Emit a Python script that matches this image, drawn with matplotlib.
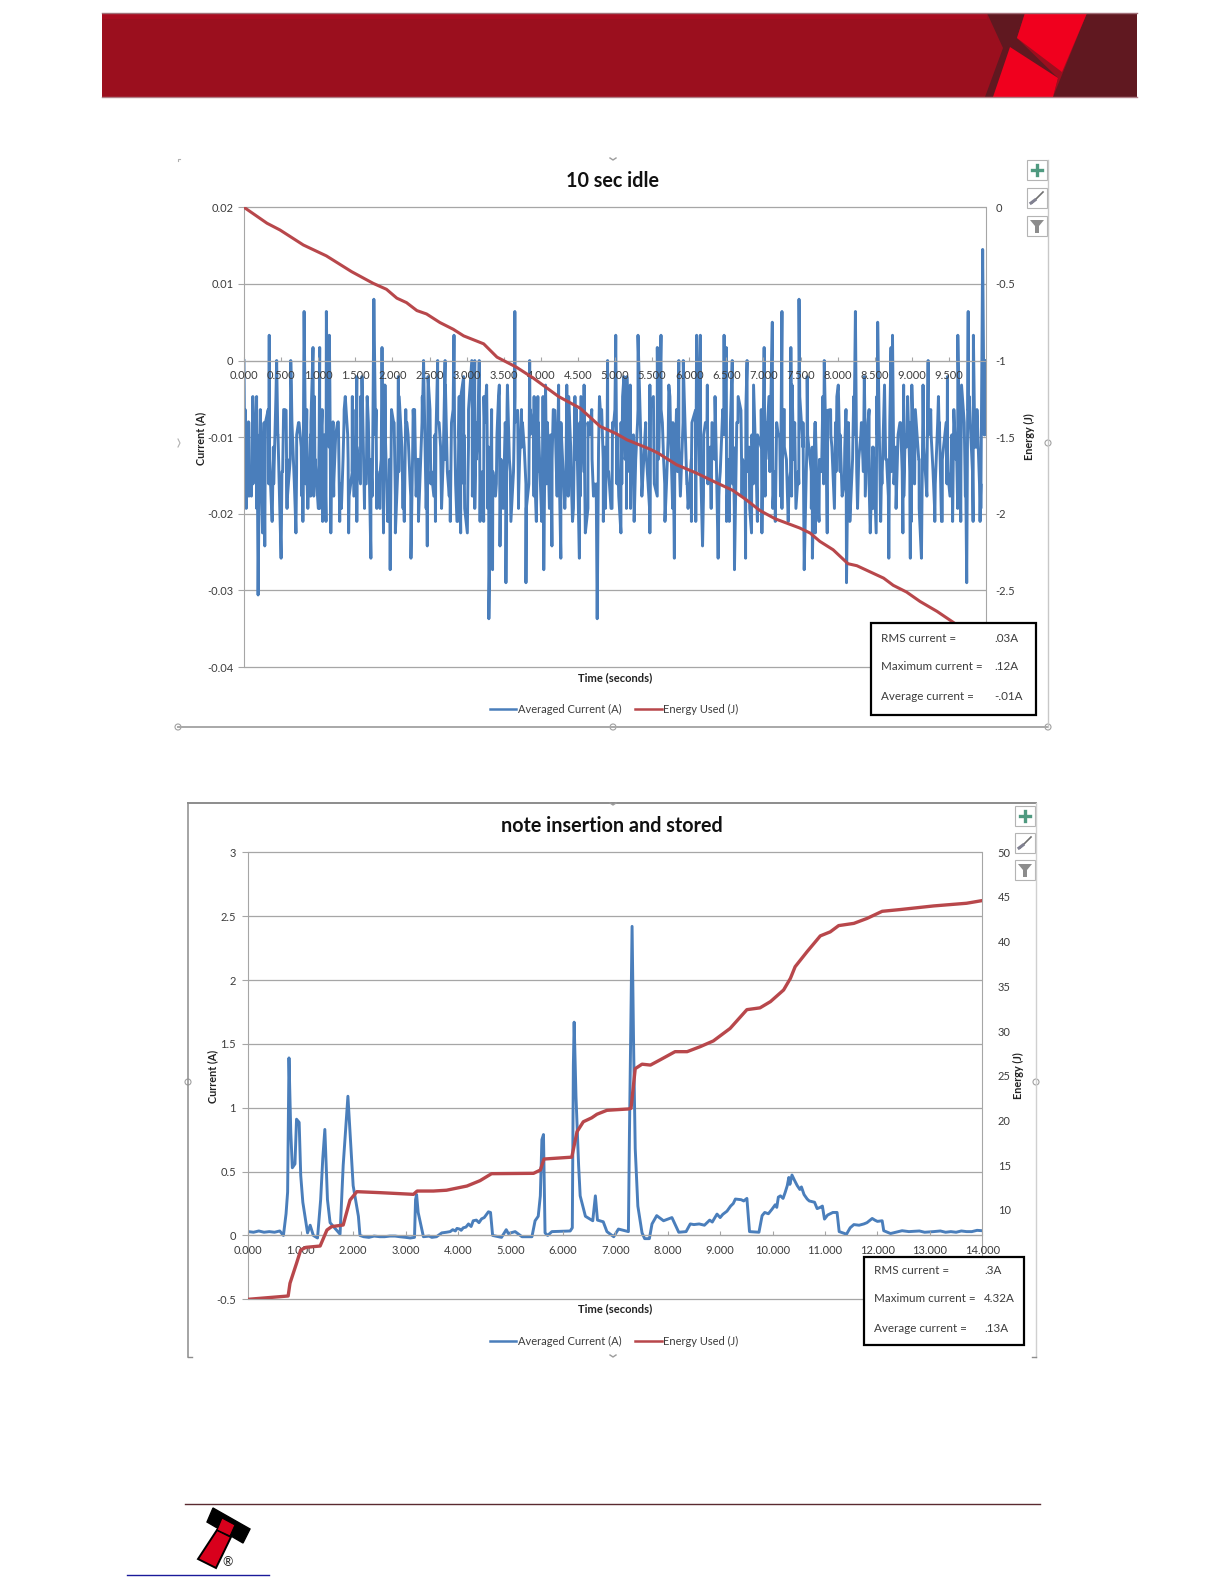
import numpy as np
import matplotlib
matplotlib.use("Agg")
import matplotlib.pyplot as plt
from matplotlib.patches import Polygon, Rectangle, Circle

W, H = 1224, 1584
FONT = ["Lato", "Open Sans", "DejaVu Sans"]
plt.rcParams["font.family"] = FONT
plt.rcParams["path.simplify"] = False

# ---------- chart 1 data: 10 sec idle ----------
idle_top_t = [0.00,0.06,0.17,0.22,0.34,0.44,0.55,0.63,0.71,0.81,0.93,1.02,1.11,1.15,1.20,1.27,1.35,1.46,1.52,1.59,1.66,1.75,1.86,1.90,
 2.08,2.18,2.28,2.42,2.48,2.61,2.71,2.83,2.90,2.96,3.07,3.11,3.17,3.27,3.43,3.55,3.65,3.74,3.85,3.91,4.03,4.24,4.35,4.46,4.54,4.67,4.82,4.90,
 5.01,5.12,5.16,5.31,5.47,5.57,5.62,5.74,5.86,5.92,6.10,6.15,6.24,6.47,6.50,6.58,6.78,7.01,7.12,7.25,7.37,7.48,7.59,7.82,7.99,
 8.24,8.36,8.54,8.72,8.74,8.89,9.00,9.22,9.37,9.48,9.62,9.76,9.83,9.955,9.99]
idle_top_a = [0,-0.008,-0.0047,-0.0064,0.0033,0,-0.0064,0,-0.0097,0.0064,0.0017,0.0017,0.0064,0.0033,-0.008,-0.008,-0.0064,-0.0047,-0.0021,-0.0021,-0.0047,0.008,0.0017,-0.0032,
 -0.0021,-0.0064,-0.0064,0,-0.0021,0,0,0.0033,-0.0047,-0.0021,0,0,0,-0.0032,-0.0047,-0.0032,0.0064,-0.0064,0,-0.0047,-0.0047,-0.0032,-0.0032,-0.0047,-0.0047,-0.008,-0.0064,0,
 0.0033,-0.0021,-0.0021,0.0033,-0.0032,0.0017,0.0033,-0.0047,0,0,0.0033,0.0033,-0.008,0.0033,0.0017,0,0,0.0017,0.005,0.0064,0.0017,0.008,-0.0021,0,-0.0047,
 0.0064,-0.0021,0.005,0.0017,0.0033,-0.0032,-0.0032,0,-0.0097,-0.0021,0.0033,0.0064,0.0033,0.0145,0]
idle_low_t = [0.03,0.10,0.19,0.25,0.28,0.38,0.50,0.58,0.70,0.78,0.86,0.94,1.02,1.06,1.17,1.29,1.41,1.48,1.57,1.71,1.79,1.88,1.97,2.04,2.16,2.25,2.32,2.47,2.58,2.78,2.88,2.92,
 3.01,3.11,3.23,3.30,3.35,3.45,3.53,3.70,3.80,3.94,4.04,4.15,4.27,4.37,4.44,4.52,4.60,4.71,4.76,4.87,4.96,5.08,5.21,5.47,5.67,5.80,6.03,6.18,6.39,6.54,6.61,6.76,6.84,6.98,
 7.16,7.25,7.38,7.55,7.66,7.70,7.86,8.12,8.44,8.52,8.69,8.88,8.98,9.13,9.31,9.40,9.55,9.66,9.74,9.92]
idle_low_a = [-0.0193,-0.0177,-0.0306,-0.0225,-0.0242,-0.021,-0.0258,-0.0193,-0.0225,-0.0177,-0.0193,-0.0177,-0.0193,-0.021,-0.0225,-0.021,-0.0225,-0.0177,-0.0161,-0.0258,-0.0193,-0.0225,-0.0273,-0.0225,-0.021,-0.0258,-0.0177,-0.0242,-0.021,-0.021,-0.021,-0.0225,
 -0.0225,-0.0193,-0.021,-0.0337,-0.0273,-0.0242,-0.029,-0.0193,-0.029,-0.021,-0.0273,-0.0242,-0.0258,-0.0177,-0.0193,-0.0258,-0.0225,-0.0177,-0.0337,-0.0193,-0.0193,-0.0225,-0.0193,-0.0225,-0.0161,-0.0258,-0.021,-0.0242,-0.0258,-0.021,-0.0273,-0.0258,-0.0225,-0.0225,
 -0.021,-0.0193,-0.0177,-0.0273,-0.0258,-0.0225,-0.0225,-0.029,-0.0225,-0.0225,-0.0258,-0.0225,-0.0258,-0.0258,-0.021,-0.021,-0.021,-0.021,-0.029,-0.021]
idle_body_a = [-0.0129,-0.0081,-0.0161,-0.0097,-0.0145,-0.0081,-0.0129,-0.0161,-0.0097,-0.0145,-0.0065,-0.0129,-0.0161,-0.0081,-0.0113,-0.0145,-0.0081,-0.0161,-0.0097,-0.0129,
 -0.0065,-0.0145,-0.0097,-0.0161,-0.0081,-0.0129,-0.0145,-0.0097,-0.0065,-0.0161,-0.0113,-0.0081,-0.0145,-0.0129,-0.0097,-0.0161,-0.0081,-0.0145,-0.0113,-0.0081,
 -0.0161,-0.0097,-0.0129,-0.0065,-0.0145,-0.0161,-0.0097,-0.0081,-0.0129,-0.0145,-0.0081,-0.0161,-0.0113,-0.0097,-0.0145,-0.0065,-0.0129,-0.0161,-0.0081,-0.0113,
 -0.0145,-0.0097,-0.0161,-0.0081,-0.0129,-0.0145,-0.0065,-0.0113,-0.0161,-0.0097,-0.0129,-0.0081,-0.0145,-0.0161,-0.0097,-0.0065,-0.0129,-0.0145,-0.0081,-0.0161,
 -0.0113,-0.0097,-0.0145,-0.0081,-0.0129,-0.0161,-0.0065,-0.0113,-0.0145,-0.0097,-0.0161,-0.0081,-0.0129,-0.0145,-0.0097,-0.0081,-0.0161,-0.0113,-0.0065,-0.0145,
 -0.0129,-0.0081,-0.0161,-0.0097,-0.0145,-0.0113,-0.0081,-0.0161,-0.0129,-0.0065,-0.0145,-0.0097,-0.0161,-0.0081,-0.0113,-0.0145,-0.0097,-0.0129,-0.0161,-0.0081,
 -0.0065,-0.0145,-0.0113,-0.0161,-0.0097,-0.0129,-0.0081,-0.0145,-0.0161,-0.0097,-0.0065,-0.0129,-0.0145,-0.0081,-0.0161,-0.0113,-0.0097,-0.0145,-0.0081,-0.0129,
 -0.0161,-0.0065,-0.0113,-0.0145,-0.0097,-0.0161,-0.0081,-0.0129,-0.0145,-0.0097,-0.0081,-0.0161,-0.0113,-0.0065,-0.0145,-0.0129,-0.0081,-0.0161,-0.0097,-0.0145,
 -0.0113,-0.0081,-0.0161,-0.0129,-0.0065,-0.0145,-0.0097,-0.0161,-0.0081,-0.0113,-0.0145,-0.0097,-0.0129,-0.0161,-0.0081,-0.0065,-0.0145,-0.0113,-0.0161,-0.0097]
idle_core_a = [-0.0113,-0.0145,-0.0097,-0.0129,-0.0081,-0.0161,-0.0113,-0.0097,-0.0145,-0.0129,-0.0081,-0.0145,-0.0113,-0.0161,-0.0097,-0.0129,
 -0.0145,-0.0097,-0.0113,-0.0161,-0.0081,-0.0129,-0.0097,-0.0145,-0.0113,-0.0081,-0.0161,-0.0129,-0.0097,-0.0145,-0.0113,-0.0129,
 -0.0081,-0.0145,-0.0161,-0.0097,-0.0113,-0.0129,-0.0081,-0.0161,-0.0145,-0.0097,-0.0113,-0.0129,-0.0145,-0.0081,-0.0097,-0.0161,
 -0.0113,-0.0129,-0.0097,-0.0145,-0.0081,-0.0113,-0.0161,-0.0129,-0.0097,-0.0145,-0.0081,-0.0129,-0.0113,-0.0161,-0.0097,-0.0145,
 -0.0113,-0.0081,-0.0129,-0.0161,-0.0097,-0.0145,-0.0113,-0.0129,-0.0081,-0.0145,-0.0097,-0.0161,-0.0113,-0.0129,-0.0145,-0.0081,
 -0.0097,-0.0161,-0.0113,-0.0145,-0.0129,-0.0081,-0.0097,-0.0145,-0.0161,-0.0113,-0.0129,-0.0097,-0.0081,-0.0145,-0.0113,-0.0161,
 -0.0129,-0.0097,-0.0145,-0.0081,-0.0113,-0.0129,-0.0161,-0.0097,-0.0145,-0.0113,-0.0081,-0.0129,-0.0145,-0.0097,-0.0161,-0.0113,
 -0.0129,-0.0081,-0.0145,-0.0097,-0.0113,-0.0161,-0.0129,-0.0145,-0.0081,-0.0097,-0.0113,-0.0161,-0.0145,-0.0129,-0.0097,-0.0081,
 -0.0145,-0.0113,-0.0161,-0.0097,-0.0129,-0.0145,-0.0081,-0.0113,-0.0097,-0.0161,-0.0129,-0.0145,-0.0113,-0.0081,-0.0097,-0.0145,
 -0.0161,-0.0129,-0.0113,-0.0097,-0.0145,-0.0081,-0.0129,-0.0161,-0.0113,-0.0097,-0.0145,-0.0129,-0.0081,-0.0113,-0.0161,-0.0097]
idle_outer_a = [-0.0064,-0.0177,-0.0047,-0.0193,-0.0081,-0.0177,-0.0064,-0.021,-0.0047,-0.0193,-0.0064,-0.0177,-0.0032,-0.0193,-0.0081,-0.021,
 -0.0064,-0.0177,-0.0047,-0.0193,-0.0064,-0.021,-0.0032,-0.0177,-0.0081,-0.0193,-0.0047,-0.0177,-0.0064,-0.021,-0.0047,-0.0193,
 -0.0081,-0.0177,-0.0064,-0.0193,-0.0032,-0.021,-0.0064,-0.0177,-0.0047,-0.0193,-0.0081,-0.0177,-0.0064,-0.021,-0.0047,-0.0193,
 -0.0064,-0.0177,-0.0081,-0.0193,-0.0032,-0.0177,-0.0064,-0.021,-0.0047,-0.0193,-0.0064,-0.0177,-0.0081,-0.021,-0.0047,-0.0193,
 -0.0064,-0.0177,-0.0032,-0.0193,-0.0064,-0.021,-0.0047,-0.0177,-0.0081,-0.0193,-0.0064,-0.0177,-0.0047,-0.021,-0.0032,-0.0193,
 -0.0064,-0.0177,-0.0081,-0.0193,-0.0047,-0.021,-0.0064,-0.0177,-0.0032,-0.0193,-0.0064,-0.0177,-0.0047,-0.021,-0.0081,-0.0193,
 -0.0064,-0.0177,-0.0047,-0.0193,-0.0032,-0.021,-0.0064,-0.0177,-0.0081,-0.0193,-0.0047,-0.0177,-0.0064,-0.021,-0.0032,-0.0193,
 -0.0064,-0.0177,-0.0047,-0.0193,-0.0081,-0.021,-0.0064,-0.0177,-0.0032,-0.0193,-0.0047,-0.0177,-0.0064,-0.021,-0.0081,-0.0193,
 -0.0047,-0.0177,-0.0064,-0.0193,-0.0032,-0.021,-0.0064,-0.0177,-0.0047,-0.0193,-0.0081,-0.0177,-0.0064,-0.021,-0.0032,-0.0193,
 -0.0047,-0.0177,-0.0064,-0.0193,-0.0081,-0.021,-0.0047,-0.0177,-0.0064,-0.0193,-0.0032,-0.0177,-0.0064,-0.021,-0.0047,-0.0193,
 -0.0081,-0.0177,-0.0064,-0.0193,-0.0047,-0.021,-0.0032,-0.0177,-0.0064,-0.0193,-0.0081,-0.0177,-0.0047,-0.021,-0.0064,-0.0193,
 -0.0032,-0.0177,-0.0064,-0.0193,-0.0047,-0.021,-0.0081,-0.0177,-0.0064,-0.0193,-0.0032,-0.0177,-0.0047,-0.021,-0.0064,-0.0193]
idle_energy_t = [0,0.31,0.485,0.80,1.11,1.45,1.74,1.92,2.06,2.19,2.33,2.46,2.64,2.82,2.96,3.23,3.41,3.67,3.90,4.24,4.53,4.80,5.02,5.16,5.47,5.58,5.83,6.10,6.33,6.59,6.77,6.95,7.16,7.49,7.63,7.76,7.94,8.14,8.26,8.62,8.75,8.93,9.11,9.34,9.56,10.0]
idle_energy_j = [0,-0.104,-0.148,-0.246,-0.317,-0.42,-0.496,-0.535,-0.593,-0.622,-0.674,-0.696,-0.752,-0.796,-0.839,-0.891,-0.978,-1.043,-1.115,-1.235,-1.311,-1.43,-1.478,-1.517,-1.578,-1.604,-1.68,-1.735,-1.789,-1.848,-1.909,-1.978,-2.033,-2.093,-2.126,-2.18,-2.235,-2.326,-2.339,-2.42,-2.467,-2.511,-2.572,-2.637,-2.709,-2.87]
idle_xticks = [0.0,0.5,1.0,1.5,2.0,2.5,3.0,3.5,4.0,4.5,5.0,5.5,6.0,6.5,7.0,7.5,8.0,8.5,9.0,9.5]
idle_yticks = [0.02,0.01,0,-0.01,-0.02,-0.03,-0.04]
idle_eticks = [0,-0.5,-1,-1.5,-2,-2.5]

# ---------- chart 2 data: note insertion and stored ----------
note_t = [0,0.30,0.60,0.67,0.72,0.75,0.776,0.81,0.84,0.89,0.92,0.97,1.0,1.04,1.13,1.18,1.24,1.32,1.38,1.42,1.46,1.51,1.56,1.75,1.81,1.90,1.94,2.0,2.10,2.13,2.51,2.89,3.09,3.17,3.19,3.21,3.24,3.34,3.59,3.69,3.98,4.1,4.29,4.58,4.62,4.66,4.83,4.92,4.96,5.09,5.22,5.41,5.47,5.53,5.57,5.6,5.63,5.66,5.71,5.79,6.14,6.18,6.2,6.215,6.25,6.3,6.33,6.43,6.57,6.62,6.66,6.77,6.84,6.97,7.06,7.25,7.27,7.32,7.35,7.38,7.43,7.51,7.56,7.65,7.7,7.79,7.92,8.08,8.21,8.35,8.43,8.75,8.94,9.13,9.29,9.51,9.56,9.74,9.8,9.99,10.11,10.24,10.31,10.37,10.47,10.66,10.91,10.99,11.23,11.27,11.41,11.48,11.74,11.9,12.09,12.12,12.25,12.47,13.07,13.7,14.0]
note_a = [0.03,0.025,0.035,0,0.17,0.34,1.39,0.81,0.53,0.56,0.91,0.885,0.47,0.26,0.02,0.08,0,-0.02,0.28,0.6,0.83,0.28,0.1,0.01,0.55,1.09,0.81,0.39,0.15,0,-0.01,-0.01,-0.02,-0.015,0.28,0.32,0.18,-0.01,-0.01,0.02,0.055,0.06,0.115,0.185,0.18,0,-0.015,0.045,0.015,0.03,-0.01,-0.01,0.115,0.15,0.31,0.75,0.79,0.02,0,0.03,0.035,0.06,1.33,1.67,1.09,0.55,0.31,0.15,0.115,0.31,0.12,0.107,0.03,-0.01,0.05,0.03,0.8,2.42,1.46,0.68,0.23,0.02,-0.025,-0.025,0.09,0.155,0.115,0.14,0.025,0.03,0.09,0.1,0.167,0.19,0.285,0.29,0.03,0.025,0.155,0.206,0.3,0.337,0.454,0.473,0.39,0.285,0.22,0.128,0.18,0.03,0.01,0.06,0.09,0.133,0.115,0.037,0.015,0.037,0.03,0.03,0.037]
note_fine_t = [0.1,0.2,0.4,0.5,2.2,2.3,2.4,2.6,2.7,2.8,3.0,3.45,3.5,3.78,3.85,3.9,3.95,4.03,4.06,4.15,4.2,4.25,4.35,4.4,4.45,4.5,8.5,8.6,8.7,8.8,8.85,8.9,9.0,9.05,9.2,9.25,9.4,9.45,9.85,9.92,10.05,10.08,10.15,10.2,10.28,10.33,10.42,10.52,10.55,10.6,10.7,10.8,10.85,10.95,11.05,11.15,11.55,11.65,11.8,11.95,12.0,12.6,12.8,12.9,13.2,13.3,13.4,13.5,13.6,13.8,13.9]
note_fine_a = [0.025,0.035,0.03,0.025,-0.01,-0.015,-0.005,-0.01,-0.005,-0.005,-0.015,-0.005,-0.015,0.025,0.03,0.045,0.035,0.05,0.04,0.065,0.09,0.07,0.12,0.1,0.13,0.14,0.085,0.09,0.08,0.12,0.105,0.14,0.14,0.165,0.23,0.25,0.28,0.27,0.18,0.17,0.24,0.22,0.31,0.29,0.39,0.40,0.43,0.36,0.38,0.32,0.27,0.26,0.21,0.23,0.16,0.18,0.085,0.08,0.1,0.12,0.11,0.03,0.035,0.025,0.035,0.025,0.03,0.025,0.035,0.03,0.04]
note_energy_t = [0,0.76,0.795,0.92,1.0,1.1,1.37,1.5,1.59,1.81,1.94,2.07,2.51,3.15,3.22,3.53,3.78,4.17,4.42,4.64,5.44,5.57,5.64,6.17,6.27,6.39,6.55,6.65,6.84,7.25,7.30,7.38,7.51,7.67,7.86,8.14,8.37,8.62,8.87,9.19,9.51,9.76,9.96,10.21,10.34,10.43,10.66,10.91,11.1,11.26,11.55,11.8,12.09,12.44,13.07,13.7,14.0]
note_energy_j = [0,0.37,1.79,4.03,5.52,5.81,5.96,7.75,8.13,8.31,11.1,12.04,11.93,11.74,12.11,12.11,12.2,12.67,13.27,14.05,14.09,14.46,15.69,15.9,18.75,19.86,20.3,20.7,21.14,21.29,21.36,25.8,26.3,26.2,26.8,27.7,27.7,28.26,28.9,30.3,32.4,32.6,33.3,34.6,35.9,37.2,38.9,40.65,41.1,41.8,42.05,42.6,43.4,43.6,44.0,44.3,44.6]
note_xticks = list(range(0, 15))
note_yticks = [3,2.5,2,1.5,1,0.5,0,-0.5]
note_eticks = [50,45,40,35,30,25,20,15,10]

BLUE, RED = "#4a7ebb", "#b8474b"
GREY, TXT = "#a6a6a6", "#3c3c3c"

fig = plt.figure(figsize=(W/100, H/100), dpi=100, facecolor="white")

def rect(l, t, r, b):
    return [l/W, 1-b/H, (r-l)/W, (b-t)/H]

def chart(l, t, r, b, xmax, ylim, elim, yticks, eticks, xticks, xfmt, ts, ys, es, ej, lw, elw, ypad, epad):
    ax = fig.add_axes(rect(l, t, r, b), facecolor="white", zorder=1)
    ax.set_xlim(0, xmax); ax.set_ylim(*ylim)
    ax.hlines(yticks, 0, xmax, colors=GREY, lw=0.9, zorder=1, clip_on=False)
    cur, = ax.plot(ts, ys, color=BLUE, lw=lw, zorder=2, solid_joinstyle="round", label="Averaged Current (A)")
    ax.set_axisbelow(False)
    ax.spines["top"].set_visible(False)
    ax.spines["left"].set_color(GREY); ax.spines["right"].set_color(GREY)
    ax.spines["bottom"].set_color(GREY)
    ax.spines["left"].set_linewidth(0.8); ax.spines["right"].set_linewidth(0.8); ax.spines["bottom"].set_linewidth(0.8)
    ax.spines["bottom"].set_position(("data", 0))
    ax.set_yticks(yticks); ax.set_yticklabels([("%g" % v) for v in yticks], color=TXT, fontsize=8)
    ax.set_xticks(xticks); ax.set_xticklabels([xfmt % v for v in xticks], color=TXT, fontsize=8)
    ax.tick_params(axis="y", length=4, color=GREY, width=0.8, pad=ypad)
    ax.tick_params(axis="x", length=3, color=GREY, width=0.8, pad=7, direction="in")
    ax2 = ax.twinx()
    ax2.set_zorder(2); ax2.patch.set_alpha(0)
    ax2.set_ylim(*elim)
    en, = ax2.plot(es, ej, color=RED, lw=elw, zorder=3, label="Energy Used (J)")
    for s in ax2.spines.values():
        s.set_visible(False)
    ax2.set_yticks(eticks); ax2.set_yticklabels([("%g" % v) for v in eticks], color=TXT, fontsize=8)
    ax2.tick_params(axis="y", length=0, pad=epad)
    return ax, ax2, cur, en

# chart 1 (merged time-ordered samples)
body_t = np.linspace(0.01, 9.985, len(idle_body_a))
core_t = np.linspace(0.02, 9.975, len(idle_core_a))
outer_t = np.linspace(0.015, 9.93, len(idle_outer_a))
t1 = np.concatenate([idle_top_t, idle_low_t, body_t, core_t, outer_t])
a1 = np.concatenate([idle_top_a, idle_low_a, idle_body_a, idle_core_a, idle_outer_a])
order = np.argsort(t1, kind="stable")
t2 = np.concatenate([note_t, note_fine_t])
a2 = np.concatenate([note_a, note_fine_a])
order2 = np.argsort(t2, kind="stable")
ax1, ax1e, c1, e1 = chart(244, 207.3, 986, 667, 10, (-0.04, 0.02), (-3, 0), idle_yticks, idle_eticks, idle_xticks, "%.3f", t1[order], a1[order], idle_energy_t, idle_energy_j, 2.1, 2.2, 3.5, 7)
ax2, ax2e, c2, e2 = chart(248.3, 852.3, 982.3, 1299.3, 14, (-0.5, 3), (0, 50), note_yticks, note_eticks, note_xticks, "%.3f", t2[order2], a2[order2], note_energy_t, note_energy_j, 2.1, 2.4, 5, 11)

# titles, axis labels and legends
def txt(x, y, s, **k):
    k.setdefault("ha", "center"); k.setdefault("va", "center")
    fig.text(x/W, 1-y/H, s, **k)

txt(612, 181, "10 sec idle", fontsize=14.2, fontweight="bold", color="#111111")
txt(612, 826, "note insertion and stored", fontsize=14.2, fontweight="bold", color="#111111")
for x, y, s in [(201, 438, "Current (A)"), (1029, 437, "Energy (J)"), (213, 1076, "Current (A)"), (1018, 1076, "Energy (J)")]:
    txt(x, y, s, rotation=90, fontsize=7.8, fontweight="bold", color="#222222")
txt(615.5, 678, "Time (seconds)", fontsize=8, fontweight="bold", color="#222222")
txt(615, 1309, "Time (seconds)", fontsize=8, fontweight="bold", color="#222222")
for cy, hs in [(709, (c1, e1)), (1341, (c2, e2))]:
    leg = fig.legend(hs, [h.get_label() for h in hs], loc="center", bbox_to_anchor=(614/W, 1-cy/H), ncol=2, frameon=False,
               fontsize=8, labelcolor=TXT, handlelength=2.4, handletextpad=0.15, columnspacing=1.2, borderpad=0)
    for h in leg.get_lines():
        h.set_linewidth(1.8)

# page furniture drawn in pixel coordinates
ov = fig.add_axes([0, 0, 1, 1], zorder=10)
ov.set_xlim(0, W); ov.set_ylim(H, 0); ov.axis("off"); ov.patch.set_alpha(0)

# header
ov.add_patch(Rectangle((102, 13), 1035, 84, fc="#9b0f1e", ec="none"))
ov.add_patch(Rectangle((102, 13), 885, 6, fc="#a80c20", ec="none"))
ov.plot([102, 1137], [13, 13], color="#a07078", lw=1)
ov.plot([102, 1137], [97, 97], color="#b08088", lw=1)
ov.add_patch(Polygon([(1087,13),(1137,13),(1137,97),(1053,97)], fc="#601820", ec="none"))
ov.add_patch(Polygon([(987,13),(1025,13),(1017,38),(1058,78),(1053,97),(985,97),(1003,48)], fc="#601820", ec="none"))
ov.add_patch(Polygon([(1025,13),(1087,13),(1062,72),(1017,38)], fc="#f0001e", ec="none"))
ov.add_patch(Polygon([(1010,47),(1058,78),(1053,97),(993,97)], fc="#f0001e", ec="none"))

# chart frames and selection handles
def handle(x, y, r=3):
    ov.add_patch(Circle((x, y), r, fc="white", ec="#a0a0a0", lw=0.8))

def notch(x, y):
    ov.plot([x-3, x, x+3], [y, y+2, y], color="#9c9c9c", lw=1)

ov.plot([178, 1048], [727, 727], color="#a8a8a8", lw=1.4)
ov.plot([1048, 1048], [160, 727], color="#c8c8c8", lw=1)
ov.plot([178, 178, 180], [161, 159, 159], color="#b0b0b0", lw=0.8)
notch(613, 158)
for x, y in [(178, 727), (613, 727), (1048, 727), (1048, 443)]:
    handle(x, y)
ov.plot([178, 180, 178], [439, 443, 447], color="#b0b0b0", lw=0.8)
ov.plot([188, 1036], [803, 803], color="#8c8c8c", lw=1.4)
ov.plot([188, 188], [803, 1357], color="#8c8c8c", lw=1.1)
ov.plot([1036, 1036], [803, 1357], color="#d0d0d0", lw=1)
ov.plot([188, 192], [1357, 1357], color="#8c8c8c", lw=1)
ov.plot([1032, 1036], [1357, 1357], color="#8c8c8c", lw=1)
notch(613, 803)
notch(613, 1355)
handle(188, 1082); handle(1036, 1082)

# stats boxes
def box(l, t, r, b, tx, vx, rows):
    ov.add_patch(Rectangle((l, t), r-l, b-t, fc="white", ec="black", lw=1.6, zorder=5))
    for y, a, v in rows:
        ov.text(tx, y, a, fontsize=8.4, color=TXT, va="center", zorder=6)
        ov.text(vx, y, v, fontsize=8.4, color=TXT, va="center", zorder=6)

box(871, 623, 1036, 715, 881, 994, [(638, "RMS current =", ".03A"), (667, "Maximum current =", ".12A"), (697, "Average current =", "-.01A")])
box(864, 1257, 1024, 1345, 874, 984, [(1271, "RMS current =", ".3A"), (1299, "Maximum current =", "4.32A"), (1329, "Average current =", ".13A")])

# chart buttons
def icons(x0, ys, s=20):
    for i, y in enumerate(ys):
        ov.add_patch(Rectangle((x0, y), s, s, fc="white", ec="#b4b4b4", lw=0.8))
        cx, cy = x0+s/2, y+s/2
        if i == 0:
            ov.plot([cx-5, cx+5], [cy, cy], color="#4f9a80", lw=2.4)
            ov.plot([cx, cx], [cy-5, cy+5], color="#4f9a80", lw=2.4)
        elif i == 1:
            ov.plot([cx-5, cx+6], [cy+5, cy-6], color="#707070", lw=1.2)
            ov.plot([cx-6, cx-2], [cy+5, cy+2], color="#808090", lw=2.2)
        else:
            ov.add_patch(Polygon([(cx-7, cy-6), (cx+7, cy-6), (cx+2, cy), (cx+2, cy+7), (cx-2, cy+7), (cx-2, cy)], fc="#8c8c8c", ec="none"))

icons(1027, [160, 188, 216])
icons(1015, [806, 833, 860])

# footer
ov.plot([185, 1040], [1504, 1504], color="#5a2a30", lw=1)
ov.plot([127, 269], [1575, 1575], color="#1a1a9a", lw=1)
ov.add_patch(Polygon([(213,1508),(250,1529),(243,1543),(207,1522)], fc="black", ec="black"))
ov.add_patch(Polygon([(217,1530),(231,1537),(216,1568),(198,1559)], fc="#d8001c", ec="black", lw=1.4))
ov.add_patch(Polygon([(222,1518),(235,1525),(230,1536),(217,1530)], fc="#d8001c", ec="black", lw=0.8))
ov.text(228, 1562, "\u00ae", fontsize=9, color="#222222", ha="center", va="center")

fig.savefig("out.png", dpi=100, facecolor="white")
